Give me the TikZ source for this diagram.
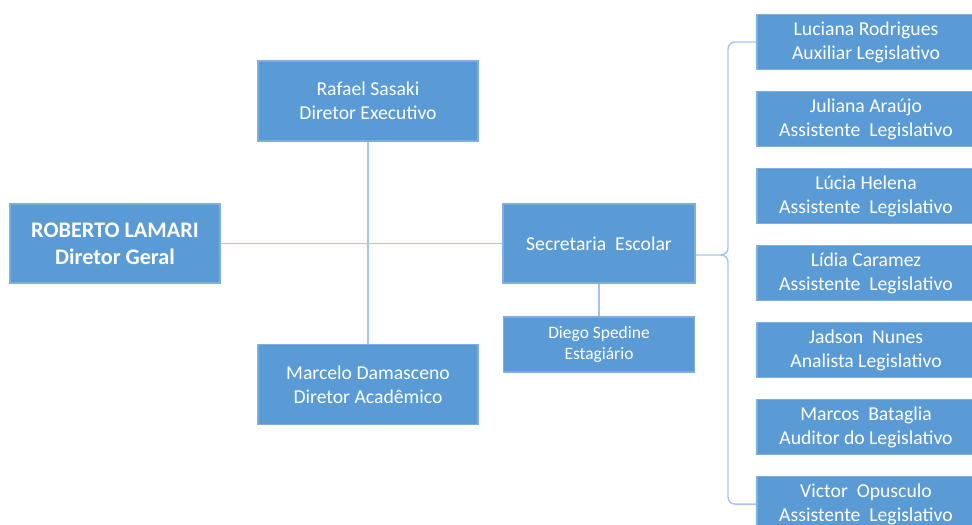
\documentclass[tikz,border=0pt]{standalone}
\usepackage{fontspec}
\setmainfont{Carlito}
\usetikzlibrary{positioning}
\definecolor{boxblue}{HTML}{5B9BD5}
\definecolor{boxedge}{HTML}{80AEDC}
\definecolor{linkblue}{HTML}{A6C6E9}
\tikzstyle{box} = [rectangle, 
minimum width=5.5cm, 
minimum height=2cm,
align=center, 
inner sep=1pt,
draw=boxedge, line width=0.8pt,
fill=boxblue, text=white,
font=\fontsize{14}{17}\selectfont]
\tikzstyle{staff} = [box, minimum width=5.45cm, minimum height=1.375cm]
\tikzstyle{link} = [draw=linkblue, line width=1pt]

\begin{document}
\begin{tikzpicture}[x=0.025cm, y=-0.025cm]
		
		% canvas (pixels of the org chart)
		\useasboundingbox (0,0) rectangle (972,525);
		
		\node[box, minimum width=5.25cm, minimum height=1.975cm, font=\fontsize{15.8}{19}\selectfont\bfseries] (roberto) at (115,243.5) {ROBERTO LAMARI\\ Diretor Geral};
		
		\node[box] (rafael) at (368,101) {Rafael Sasaki\\ Diretor Executivo};
		\node[box] (marcelo) at (368,384.5) {Marcelo Damasceno\\ Diretor Acadêmico};
		
		\node[box, minimum width=4.8cm, minimum height=1.975cm] (secretaria) at (599,243.5) {Secretaria\ \ Escolar};
		\node[box, minimum width=4.775cm, minimum height=1.375cm, font=\fontsize{12.4}{15}\selectfont] (diego) at (599,344.5) {Diego Spedine\\ Estagiário};
		
		% staff column
		\node[staff] (luciana) at (866,42) {Luciana Rodrigues\\ Auxiliar Legislativo};
		\node[staff] (juliana) at ([yshift=-1.925cm]luciana.center) {Juliana Araújo\\ Assistente\ \ Legislativo};
		\node[staff] (lucia) at ([yshift=-1.925cm]juliana.center) {Lúcia Helena\\ Assistente\ \ Legislativo};
		\node[staff] (lidia) at ([yshift=-1.925cm]lucia.center) {Lídia Caramez\\ Assistente\ \ Legislativo};
		\node[staff] (jadson) at ([yshift=-1.925cm]lidia.center) {Jadson\ \ Nunes\\ Analista Legislativo};
		\node[staff] (marcos) at ([yshift=-1.925cm]jadson.center) {Marcos\ \ Bataglia\\ Auditor do Legislativo};
		\node[staff] (victor) at ([yshift=-1.925cm]marcos.center) {Victor\ \ Opusculo\\ Assistente\ \ Legislativo};
		
		\draw[link] (roberto) -- (secretaria);
		\draw[link] (rafael) -- (marcelo);
		\draw[link] (secretaria) -- (diego);
		
		% bracket to the staff
		\coordinate (brace) at (728,255);
		\draw[link, rounded corners=5pt] (luciana.west) -- (luciana.west -| brace) -- (brace) -- (secretaria.east |- brace);
		\draw[link, rounded corners=5pt] ([xshift=-0.2cm]brace) -- (brace) -- (brace |- victor.west) -- (victor.west);
		
	\end{tikzpicture}
\end{document}
